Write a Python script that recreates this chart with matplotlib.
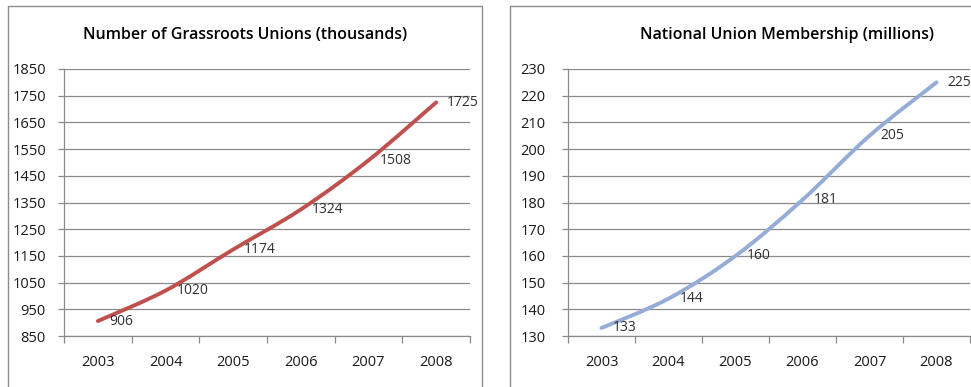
import matplotlib
matplotlib.use("Agg")
import matplotlib.pyplot as plt
from matplotlib.patches import Rectangle, PathPatch
from matplotlib.path import Path

years = ["2003", "2004", "2005", "2006", "2007", "2008"]
grassroots = [906, 1020, 1174, 1324, 1508, 1725]
membership = [133, 144, 160, 181, 205, 225]

W, H = 971, 387
plt.rcParams['font.family'] = ['Open Sans', 'DejaVu Sans']

grid_col = "#8a8a8a"
text_col = "#1a1a1a"


def px(x0, y0, x1, y1):
    # pixel box -> figure fraction [left, bottom, width, height]
    return [x0 / W, 1 - y1 / H, (x1 - x0) / W, (y1 - y0) / H]


def smooth_path(xs, ys):
    # Excel-style smoothed line: cubic bezier through the points
    n = len(xs)
    verts = [(xs[0], ys[0])]
    codes = [Path.MOVETO]
    for i in range(n - 1):
        xp, yp = (xs[i - 1], ys[i - 1]) if i > 0 else (xs[i], ys[i])
        xn, yn = (xs[i + 2], ys[i + 2]) if i + 2 < n else (xs[i + 1], ys[i + 1])
        c1 = (xs[i] + (xs[i + 1] - xp) / 6, ys[i] + (ys[i + 1] - yp) / 6)
        c2 = (xs[i + 1] - (xn - xs[i]) / 6, ys[i + 1] - (yn - ys[i]) / 6)
        verts += [c1, c2, (xs[i + 1], ys[i + 1])]
        codes += [Path.CURVE4] * 3
    return Path(verts, codes)


def draw_panel(fig, box, values, color, ylim, ystep, title, title_x, ylab_pad):
    ax = fig.add_axes(px(*box))
    x = list(range(len(years)))
    ax.add_patch(PathPatch(smooth_path(x, values), fill=False, edgecolor=color,
                           lw=2.8, capstyle="round", zorder=3))
    for xi, v in zip(x, values):
        ax.annotate(str(v), (xi, v), xytext=(8, 0), textcoords="offset points",
                    ha="left", va="center", fontsize=10, color="#303030",
                    annotation_clip=False)

    ax.set_xlim(-0.5, len(years) - 0.5)
    ax.set_ylim(*ylim)
    ax.set_yticks(range(ylim[0], ylim[1] + 1, ystep))
    ax.yaxis.grid(True, color=grid_col, lw=0.9)
    ax.set_axisbelow(True)
    ax.set_xticks(x)
    ax.set_xticklabels(years)
    ax.set_xticks([i - 0.5 for i in range(len(years) + 1)], minor=True)
    ax.tick_params(axis="x", which="major", length=0, pad=14, labelsize=10.5, labelcolor=text_col)
    ax.tick_params(axis="x", which="minor", length=5, color=grid_col, width=0.9)
    ax.tick_params(axis="y", length=4, color=grid_col, width=0.9, pad=ylab_pad,
                   labelsize=10.5, labelcolor=text_col)
    for s in ["top", "right"]:
        ax.spines[s].set_visible(False)
    for s in ["left", "bottom"]:
        ax.spines[s].set_color(grid_col)
        ax.spines[s].set_linewidth(0.9)
    fig.text(title_x / W, 1 - 35 / H, title, ha="center", va="center",
             fontsize=11.5, fontweight="semibold", color="black")
    return ax


fig = plt.figure(figsize=(W / 100, H / 100), dpi=100)

# chart borders
fig.patches.append(Rectangle((8 / W, -0.05), 474 / W, 1.05 - 6 / H, transform=fig.transFigure,
                             fill=False, edgecolor="#8c8c8c", lw=1))
fig.patches.append(Rectangle((510 / W, -0.05), 500 / W, 1.05 - 6 / H, transform=fig.transFigure,
                             fill=False, edgecolor="#8c8c8c", lw=1))

draw_panel(fig, (64, 69, 470, 336), grassroots, "#C0504D", (850, 1850), 100,
           "Number of Grassroots Unions (thousands)", 245, 9)
draw_panel(fig, (568, 69, 970, 336), membership, "#95ACD6", (130, 230), 10,
           "National Union Membership (millions)", 787, 12)

fig.savefig("out.png", dpi=100)
